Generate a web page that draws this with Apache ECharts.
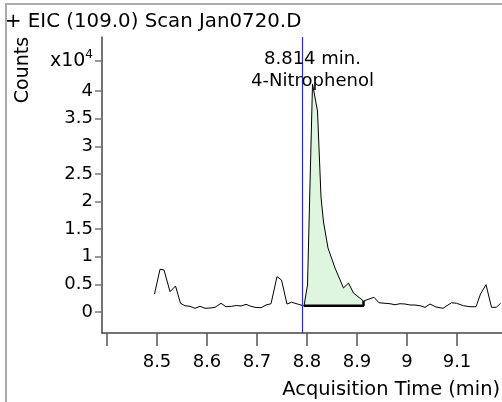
<!DOCTYPE html>
<html>
<head>
<meta charset="utf-8">
<script src="https://cdn.jsdelivr.net/npm/echarts@6/dist/echarts.min.js"></script>
<style>
  html, body { margin: 0; padding: 0; background: #fff; }
  #chart { width: 502px; height: 402px; }
</style>
</head>
<body>
<div id="chart"></div>
<script>
// trace: time (min) and counts
const times = [8.495, 8.506, 8.514, 8.526, 8.537, 8.547, 8.556, 8.566, 8.576, 8.586,
  8.596, 8.606, 8.616, 8.628, 8.638, 8.649, 8.659, 8.668, 8.678, 8.686,
  8.696, 8.708, 8.718, 8.728, 8.740, 8.749, 8.760, 8.769, 8.781, 8.794,
  8.801, 8.811, 8.821, 8.828, 8.833, 8.842, 8.856, 8.873, 8.883, 8.893,
  8.913, 8.934, 8.944, 8.956, 8.966, 8.976, 8.986, 8.996, 9.006, 9.016,
  9.026, 9.036, 9.046, 9.058, 9.072, 9.089, 9.099, 9.113, 9.126, 9.138,
  9.147, 9.158, 9.169, 9.179, 9.187];
const counts = [3260, 7740, 7610, 3680, 4710, 1580, 1140, 1030, 670, 1030,
  670, 720, 850, 1580, 960, 1030, 1180, 1090, 1390, 1090,
  850, 780, 1270, 1500, 6400, 5800, 1450, 1760, 1450, 1090,
  4890, 41300, 36400, 20800, 16300, 11600, 7970, 4350, 5250, 3440,
  1990, 2660, 1680, 1580, 1500, 1320, 1500, 1450, 1270, 1270,
  1140, 850, 1450, 910, 670, 1680, 1580, 1140, 960, 960,
  3260, 4950, 850, 850, 1580];

// integrated peak
const peakStart = 8.794;
const peakEnd = 8.913;
const peakBase = 1140;
const peakEndValue = 1990;
const markerTime = 8.795;
const peakLabel = ['8.814 min.', '4-Nitrophenol'];
const labelTime = 8.811;
const apexValue = 41300;

// axis ticks
const xTicks = [8.4, 8.5, 8.6, 8.7, 8.8, 8.9, 9.0, 9.1];
const xLabels = [8.5, 8.6, 8.7, 8.8, 8.9, 9.0, 9.1];
const yTicks = [0, 5000, 10000, 15000, 20000, 25000, 30000, 35000, 40000, 45470];

const font = 'DejaVu Sans';
const trace = times.map((t, i) => [t, counts[i]]);
const peak = trace.filter(p => p[0] >= peakStart && p[0] <= peakEnd);

var myChart = echarts.init(document.getElementById('chart'));
myChart.setOption({
  animation: false,
  grid: { left: 102, right: 0, top: 37, bottom: 69 },
  xAxis: {
    type: 'value',
    min: 8.39,
    max: 9.19,
    axisLine: { onZero: false, lineStyle: { color: '#444', width: 1.5 } },
    axisTick: { customValues: xTicks, length: 13, lineStyle: { color: '#555', width: 1.5 } },
    axisLabel: {
      customValues: xLabels,
      margin: 20,
      fontFamily: font,
      fontSize: 18,
      color: '#000',
      formatter: v => String(Math.round(v * 10) / 10)
    },
    splitLine: { show: false }
  },
  yAxis: {
    type: 'value',
    min: -3800,
    max: 49800,
    axisLine: { show: true, onZero: false, lineStyle: { color: '#444', width: 1.5 } },
    axisTick: { show: true, customValues: yTicks, length: 7, lineStyle: { color: '#777', width: 1.5 } },
    axisLabel: {
      customValues: yTicks,
      margin: 9,
      fontFamily: font,
      fontSize: 18,
      color: '#000',
      formatter: v => v > 42000 ? '{b|x10}{s|4}' : String(v / 10000),
      rich: {
        b: { fontFamily: font, fontSize: 19, color: '#000' },
        s: { fontFamily: font, fontSize: 12, color: '#000', padding: [0, 0, 12, 0] }
      }
    },
    splitLine: { show: false }
  },
  graphic: [
    {
      type: 'rect', z: -1,
      shape: { x: 6, y: 4, width: 700, height: 600 },
      style: { fill: 'none', stroke: '#aaa', lineWidth: 2 }
    },
    {
      type: 'text', x: 5, y: 22,
      style: { text: '+ EIC (109.0) Scan Jan0720.D', font: '19.8px "DejaVu Sans"', fill: '#000', textVerticalAlign: 'middle' }
    },
    {
      type: 'text', x: 23, y: 70, rotation: Math.PI / 2,
      style: { text: 'Counts', font: '19px "DejaVu Sans"', fill: '#000', textAlign: 'center', textVerticalAlign: 'middle' }
    },
    {
      type: 'text', x: 500, y: 390,
      style: { text: 'Acquisition Time (min)', font: '19.4px "DejaVu Sans"', fill: '#000', textAlign: 'right', textVerticalAlign: 'middle' }
    }
  ],
  series: [
    {
      type: 'line',
      data: peak,
      symbol: 'none',
      lineStyle: { width: 0 },
      areaStyle: { origin: peakBase, color: '#ddf6dd', opacity: 1 },
      z: 1
    },
    {
      type: 'line',
      data: trace,
      symbol: 'none',
      lineStyle: { color: '#000', width: 1 },
      z: 3,
      markLine: {
        silent: true,
        symbol: 'none',
        label: { show: false },
        lineStyle: { color: '#2a2ad0', width: 1.2, type: 'solid', opacity: 1 },
        emphasis: { disabled: true },
        data: [{ xAxis: markerTime }]
      },
      markPoint: {
        silent: true,
        symbol: 'rect',
        symbolSize: 1,
        itemStyle: { color: 'rgba(0,0,0,0)' },
        label: {
          show: true,
          position: 'top',
          distance: 0,
          offset: [0, 9],
          fontFamily: font,
          fontSize: 18,
          lineHeight: 22,
          color: '#000',
          formatter: peakLabel.join('\n')
        },
        data: [{ coord: [labelTime, apexValue] }]
      }
    },
    {
      type: 'line',
      data: [[peakStart, peakBase], [peakEnd, peakBase], [peakEnd, peakEndValue]],
      symbol: 'none',
      lineStyle: { color: '#000', width: 2.5 },
      z: 4
    }
  ]
});
</script>
</body>
</html>
